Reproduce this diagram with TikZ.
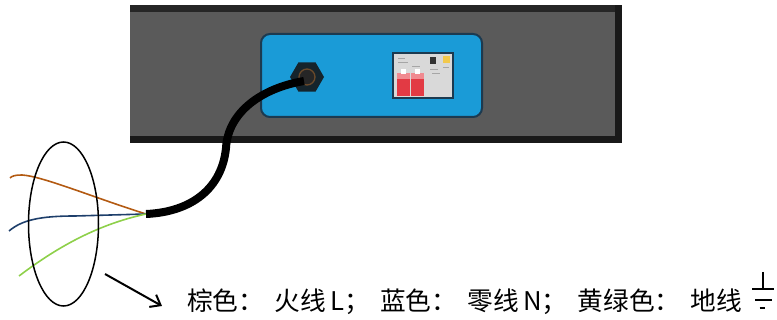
\documentclass[tikz,border=0pt]{standalone}
\usepackage{fontspec}
\newfontfamily\cjk{Noto Sans CJK SC}
\usetikzlibrary{arrows.meta,shapes.geometric}
\definecolor{panelgray}{HTML}{5A5A5A}
\definecolor{panelblue}{HTML}{1A9BD7}
\definecolor{panelrim}{HTML}{1C3A50}
\definecolor{glanddark}{HTML}{15242C}
\definecolor{glandring}{HTML}{6B4A2A}
\definecolor{breakerbg}{HTML}{D9D9D9}
\definecolor{breakerred}{HTML}{E23A44}
\definecolor{breakerpink}{HTML}{F08A90}
\definecolor{labelyellow}{HTML}{F2C94C}
\definecolor{wirebrown}{HTML}{B35A12}
\definecolor{wireblue}{HTML}{1E3F6B}
\definecolor{wiregreen}{HTML}{8ED04A}
\begin{document}
\begin{tikzpicture}[x=1pt,y=-1pt,
  wire/.style={line width=1.6pt},
  cable/.style={line width=8pt, black},
  gndline/.style={line width=1.3pt, black},
  printline/.style={line width=0.6pt, gray!70}]
\useasboundingbox (0,0) rectangle (777,320);

% cabinet strip
\fill[panelgray] (130,5) rectangle (621,142);
\fill[black!85] (130,5) rectangle (621,12);
\fill[black!90] (130,136) rectangle (622,143);
\fill[black!90] (615,5) rectangle (622,143);

% blue mounting plate
\draw[panelrim, line width=2pt, fill=panelblue, rounded corners=9pt] (261,34) rectangle (482,117);

% miniature circuit breaker
\draw[panelrim, line width=1.6pt, fill=breakerbg] (393,53) rectangle (453,98);
\fill[breakerred] (397,78) rectangle (409.5,96);
\fill[breakerred] (411,78) rectangle (423.5,96);
\fill[breakerpink] (397,73) rectangle (409.5,79);
\fill[breakerpink] (411,73) rectangle (423.5,79);
\fill[white] (401,69) rectangle (406,74);
\fill[white] (415,69) rectangle (420,74);
\fill[black!80] (430,57) rectangle (436,64);
\fill[labelyellow] (443,56) rectangle (450,63);
\draw[printline] (398,58) -- (405,58);
\draw[printline] (398,62) -- (408,62);
\draw[printline] (412,66) -- (420,66);
\draw[printline] (430,69) -- (438,69);
\draw[printline] (432,73) -- (440,73);
\draw[printline] (443,67) -- (449,67);

% cable gland
\node[regular polygon, regular polygon sides=6, minimum size=34pt, inner sep=0pt,
      fill=glanddark] (gland) at (307,77) {};
\draw[glandring, line width=1.3pt, fill=black!85] (gland.center) circle (8);
\coordinate (entry) at (304,81);

% wire ends leaving the cable
\coordinate (plug) at (146,214);
\draw[wire, wirebrown] (plug) .. controls (95,198) and (42,176) .. (22,175)
      .. controls (15,175) and (12,176) .. (10,178);
\draw[wire, wireblue] (plug) -- (75,216) .. controls (40,216) and (22,220) .. (9,231);
\draw[wire, wiregreen] (plug) .. controls (100,224) and (60,245) .. (19,276);

% power cable
\draw[cable] (entry) .. controls (262,88) and (228,112) .. (226,148)
      .. controls (222,188) and (192,212) .. (plug);

% bundle ring and pointer
\draw[line width=1.5pt] (63.5,224) ellipse (35 and 82);
\coordinate (ptail) at (105,274);
\coordinate (phead) at (162,306);
\draw[line width=2pt, -{Straight Barb[length=9pt,width=14pt,line width=2pt]}] (ptail) -- (phead);

% legend
\node[anchor=west, inner sep=0pt, font=\cjk\fontsize{25.7}{26}\selectfont] (legend) at (187,302)
  {棕色：\hspace{0.4em}火线\,L；\hspace{0.4em}蓝色：\hspace{0.4em}零线\,N；\hspace{0.4em}黄绿色：\hspace{0.4em}地线};

% earth symbol
\coordinate (gnd) at (763,289);
\draw[gndline] (763,272) -- (gnd);
\draw[gndline] (752,289) -- (774,289);
\draw[gndline] (755,300) -- (772,300);
\draw[gndline] (759.5,308) -- (765,308);
\end{tikzpicture}
\end{document}
